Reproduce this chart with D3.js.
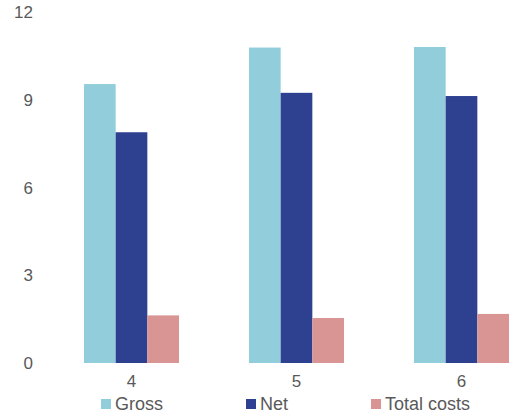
<!doctype html>
<html>
<head>
<style>
body { margin:0; background:#fff; }
svg text { font-family: "Liberation Sans", Arial, sans-serif; fill:#595959; }
</style>
<script src="https://d3js.org/d3.v7.min.js"></script>
</head>
<body>
<script>
var categories = ['4', '5', '6'];
var seriesNames = ['Gross', 'Net', 'Total costs'];
var gross = [9.55, 10.8, 10.82];
var net = [7.9, 9.25, 9.14];
var totalCosts = [1.63, 1.54, 1.68];
var yTicks = [0, 3, 6, 9, 12];
var colors = ['#92cddc', '#2e4190', '#d99594'];

var width = 512, height = 419;
var svg = d3.select('body').append('svg')
    .attr('width', width)
    .attr('height', height);

var x = d3.scaleBand().domain(categories).range([49, 544]).paddingInner(0.424).paddingOuter(0.212);
var x1 = d3.scaleBand().domain(seriesNames).range([0, x.bandwidth()]);
var y = d3.scaleLinear().domain([0, 12]).range([363, 12.5]);

var values = [gross, net, totalCosts];

// y axis labels
svg.selectAll('.ylab')
   .data(yTicks)
   .enter()
   .append('text')
   .attr('x', 33)
   .attr('y', function(d) { return y(d); })
   .attr('dy', '0.35em')
   .attr('text-anchor', 'end')
   .attr('font-size', 17)
   .text(function(d) { return d; });

// bars
seriesNames.forEach(function(s, si) {
   svg.selectAll('.bar' + si)
      .data(categories)
      .enter()
      .append('rect')
      .attr('x', function(c) { return x(c) + x1(s); })
      .attr('width', x1.bandwidth())
      .attr('y', function(c, i) { return y(values[si][i]); })
      .attr('height', function(c, i) { return y(0) - y(values[si][i]); })
      .attr('fill', colors[si]);
});

// x labels
svg.selectAll('.xlab')
   .data(categories)
   .enter()
   .append('text')
   .attr('x', function(c) { return x(c) + x.bandwidth() / 2; })
   .attr('y', 381)
   .attr('dy', '0.35em')
   .attr('text-anchor', 'middle')
   .attr('font-size', 17)
   .text(function(d) { return d; });

// legend
var legendX = [101, 246, 371];
var lg = svg.selectAll('.leg')
   .data(seriesNames)
   .enter()
   .append('g')
   .attr('transform', function(d, i) { return 'translate(' + legendX[i] + ',404)'; });
lg.append('rect')
   .attr('x', 0).attr('y', -5)
   .attr('width', 10).attr('height', 10)
   .attr('fill', function(d, i) { return colors[i]; });
lg.append('text')
   .attr('x', 14)
   .attr('dy', '0.35em')
   .attr('font-size', 18)
   .text(function(d) { return d; });
</script>
</body>
</html>
